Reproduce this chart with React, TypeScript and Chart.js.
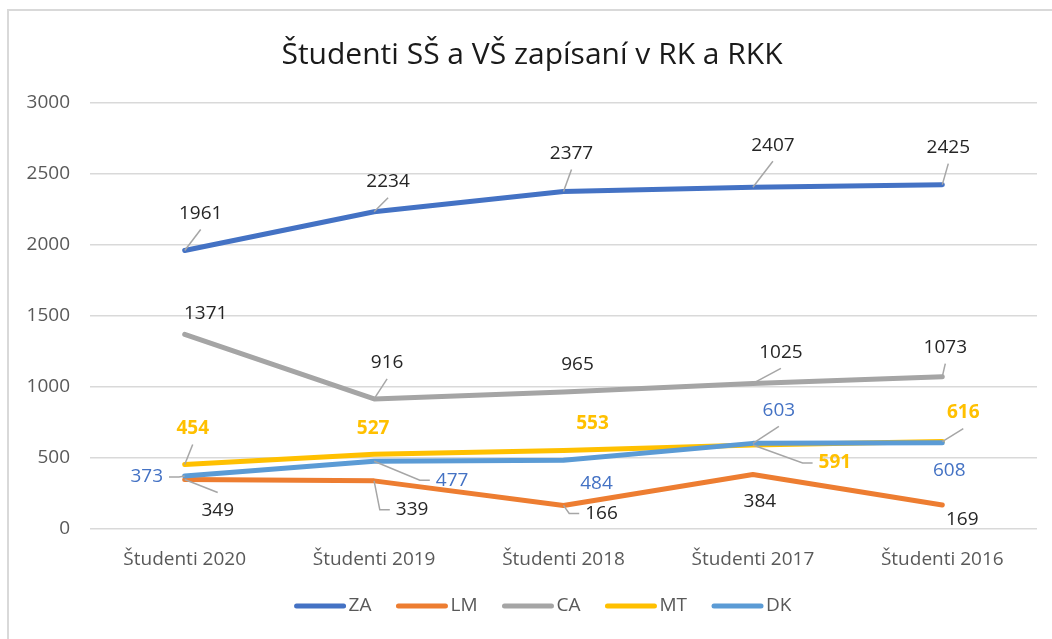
import React, { useEffect, useRef } from "react";
import { Chart, registerables } from "chart.js";

Chart.register(...registerables);

// ---------- data ----------
const chartTitle = "Študenti SŠ a VŠ zapísaní v RK a RKK";
const categories = ["Študenti 2020", "Študenti 2019", "Študenti 2018", "Študenti 2017", "Študenti 2016"];
const seriesNames = ["ZA", "LM", "CA", "MT", "DK"];
const valuesZA = [1961, 2234, 2377, 2407, 2425];
const valuesLM = [349, 339, 166, 384, 169];
const valuesCA = [1371, 916, 965, 1025, 1073];
const valuesMT = [454, 527, 553, 591, 616];
const valuesDK = [373, 477, 484, 603, 608];
const yMin = 0;
const yMax = 3000;
const yStep = 500;

// ---------- styles ----------
const FONT = '"Open Sans", "Liberation Sans", sans-serif';
const seriesColors = ["#4472C4", "#ED7D31", "#A5A5A5", "#FFC000", "#5B9BD5"];
const labelColors = ["#262626", "#262626", "#262626", "#FFC000", "#4472C4"];
const labelBold = [false, false, false, true, false];
// label placement per point: [dx, dy, leader] ; leader: "" none, "b" to label bottom, "t" to label top, "l" elbow into left side, "r" elbow into right side
const labelPlacement: [number, number, string][][] = [
  [[16, -37, "b"], [14, -30, "b"], [8, -38, "b"], [20, -42, "b"], [6, -37, "b"]],
  [[33, 31, "t"], [38, 29, "l"], [38, 8, "l"], [7, 27, ""], [20, 15, ""]],
  [[21, -21, ""], [13, -36, "b"], [14, -27, ""], [28, -31, "b"], [3, -29, "b"]],
  [[8, -36, "b"], [-1, -26, ""], [29, -27, ""], [82, 18, "l"], [21, -29, "b"]],
  [[-38, 1, "r"], [78, 19, "l"], [33, 23, ""], [26, -33, "b"], [7, 28, ""]],
];

const labelPlugin = {
  id: "pointLabels",
  afterDatasetsDraw(chart: any) {
    const ctx: CanvasRenderingContext2D = chart.ctx;
    chart.data.datasets.forEach((ds: any, di: number) => {
      const meta = chart.getDatasetMeta(di);
      meta.data.forEach((pt: any, i: number) => {
        const [dx, dy, leader] = labelPlacement[di][i];
        const text = String(ds.data[i]);
        ctx.save();
        ctx.font = `${labelBold[di] ? "bold " : ""}19px ${FONT}`;
        const w = ctx.measureText(text).width;
        const cx = pt.x + dx;
        const cy = pt.y + dy;
        if (leader) {
          ctx.strokeStyle = "#A6A6A6";
          ctx.lineWidth = 1.5;
          ctx.beginPath();
          ctx.moveTo(pt.x, pt.y);
          if (leader === "b") {
            ctx.lineTo(cx, cy + 16);
          } else if (leader === "t") {
            ctx.lineTo(cx, cy - 18);
          } else if (leader === "l") {
            const ax = cx - w / 2 - 6;
            ctx.lineTo(ax - 10, cy);
            ctx.lineTo(ax, cy);
          } else if (leader === "r") {
            const ax = cx + w / 2 + 6;
            ctx.lineTo(ax + 10, cy);
            ctx.lineTo(ax, cy);
          }
          ctx.stroke();
        }
        ctx.fillStyle = labelColors[di];
        ctx.textAlign = "center";
        ctx.textBaseline = "middle";
        ctx.fillText(text, cx, cy);
        ctx.restore();
      });
    });
  },
};

const titleLegendPlugin = {
  id: "titleLegend",
  afterDraw(chart: any) {
    const ctx: CanvasRenderingContext2D = chart.ctx;
    ctx.save();
    // title
    ctx.font = `30px ${FONT}`;
    ctx.fillStyle = "#1a1a1a";
    ctx.textAlign = "center";
    ctx.textBaseline = "middle";
    ctx.fillText(chartTitle, 523, 44);
    // legend
    ctx.font = `19px ${FONT}`;
    const lineLen = 51;
    const gapText = 3;
    const gapItem = 25;
    const widths = seriesNames.map((n) => ctx.measureText(n).width);
    const total = widths.reduce((a, b) => a + b + lineLen + gapText, 0) + gapItem * (seriesNames.length - 1);
    let x = 534 - total / 2;
    const y = 595;
    seriesNames.forEach((n, i) => {
      ctx.strokeStyle = seriesColors[i];
      ctx.lineWidth = 5;
      ctx.lineCap = "round";
      ctx.beginPath();
      ctx.moveTo(x + 2, y);
      ctx.lineTo(x + lineLen - 2, y);
      ctx.stroke();
      ctx.fillStyle = "#595959";
      ctx.textAlign = "left";
      ctx.fillText(n, x + lineLen + gapText, y);
      x += lineLen + gapText + widths[i] + gapItem;
    });
    ctx.restore();
  },
};

export default function App() {
  const ref = useRef<HTMLCanvasElement>(null);
  useEffect(() => {
    document.body.style.overflow = "hidden";
    const seriesValues = [valuesZA, valuesLM, valuesCA, valuesMT, valuesDK];
    const chart = new Chart(ref.current as HTMLCanvasElement, {
      type: "line",
      data: {
        labels: categories,
        datasets: seriesNames.map((name, i) => ({
          label: name,
          data: seriesValues[i],
          borderColor: seriesColors[i],
          backgroundColor: seriesColors[i],
          borderWidth: 5,
          borderCapStyle: "round",
          borderJoinStyle: "round",
          pointRadius: 0,
          tension: 0,
          order: seriesNames.length - i,
        })),
      },
      options: {
        animation: false,
        responsive: false,
        layout: { padding: { left: 0, right: 15, top: 92, bottom: 70 } },
        plugins: {
          legend: { display: false },
          title: { display: false },
          tooltip: { enabled: false },
        },
        scales: {
          x: {
            offset: true,
            grid: { display: false },
            border: { display: false },
            ticks: { color: "#595959", font: { family: FONT, size: 19 }, padding: 11, maxRotation: 0 },
            afterFit: (s: any) => { s.height = 40; },
          },
          y: {
            min: yMin,
            max: yMax,
            ticks: {
              stepSize: yStep,
              color: "#595959",
              font: { family: FONT, size: 19 },
              padding: 20,
              callback: (v: any) => String(v),
            },
            grid: { color: "#D9D9D9", lineWidth: 1.5, drawTicks: false },
            border: { display: false },
            afterFit: (s: any) => { s.width = 81; },
          },
        },
      },
      plugins: [labelPlugin, titleLegendPlugin],
    } as any);
    return () => chart.destroy();
  }, []);
  return (
    <div
      style={{
        position: "absolute",
        left: 7,
        top: 9,
        width: 1043,
        height: 628,
        borderLeft: "2px solid #D9D9D9",
        borderTop: "2px solid #D9D9D9",
        background: "#fff",
        overflow: "hidden",
      }}
    >
      <canvas ref={ref} width={1043} height={628} style={{ display: "block" }} />
    </div>
  );
}
